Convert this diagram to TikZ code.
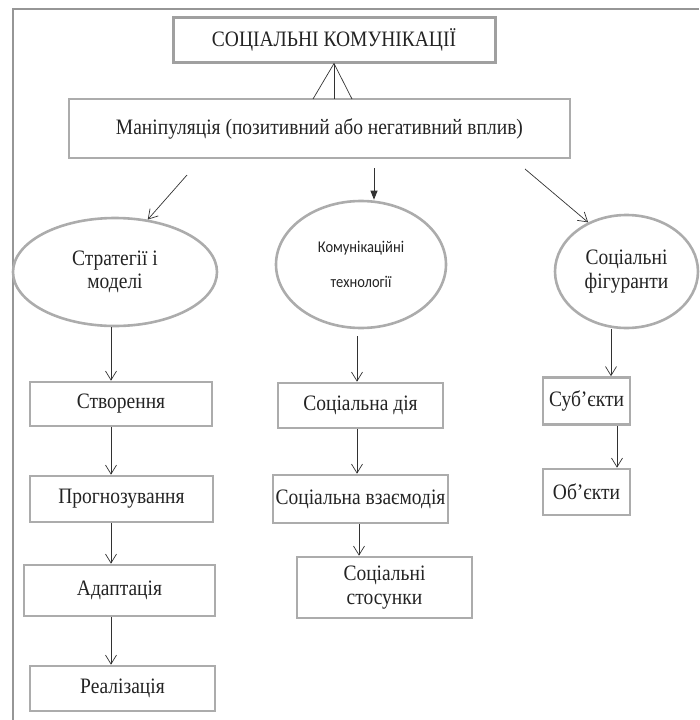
\documentclass[tikz,border=0pt]{standalone}
\usepackage{graphicx}
\usepackage{fontspec}
\setmainfont{Liberation Serif}
\newfontfamily\calib{Carlito}
\usetikzlibrary{arrows.meta,shapes.geometric}
\newcommand\vst[1]{\scalebox{1}[1.13]{#1}}
\definecolor{boxgray}{RGB}{172,172,172}
\definecolor{topgray}{RGB}{160,160,160}
\definecolor{framegray}{RGB}{150,150,150}
\definecolor{arrgray}{RGB}{50,50,50}
\definecolor{txt}{RGB}{35,35,35}
\begin{document}
\begin{tikzpicture}[x=1pt,y=-1pt,
  box/.style={draw=boxgray,line width=2.6pt,rectangle,inner sep=0pt,align=center,text=txt,
    font=\fontsize{19.5}{23.5}\selectfont},
  oval/.style={draw=boxgray,line width=2.6pt,ellipse,inner sep=0pt,align=center,text=txt,
    font=\fontsize{19.5}{23.5}\selectfont},
  arr/.style={draw=arrgray,line width=0.7pt,-{Straight Barb[length=9pt,width=11pt]}},
  arrf/.style={draw=arrgray,line width=0.9pt,-{Triangle[length=9pt,width=7pt]}},
  frameline/.style={draw=framegray,line width=2pt},
  link/.style={draw=arrgray,line width=0.7pt}]
\useasboundingbox (0,0) rectangle (699,720);
\draw[frameline] (13,720) -- (13,9) -- (699,9);

% top level
\node[box,draw=topgray,line width=3pt,minimum width=322pt,minimum height=45pt] (top) at (334,39.5) {\vst{СОЦІАЛЬНІ КОМУНІКАЦІЇ}};
\node[box,minimum width=501pt,minimum height=59pt] (manip) at (319.5,128.5) {\vst{Маніпуляція (позитивний або негативний вплив)}};

\coordinate (f1) at (313,99);
\coordinate (f2) at (334,99);
\coordinate (f3) at (352,99);
\draw[link] (f1) -- (top.south) -- (f3);
\draw[link] (top.south) -- (f2);

% ellipses
\node[oval,minimum width=204pt,minimum height=108pt] (e1) at (115,272) {\vst{Стратегії і}\\\vst{моделі}};
\node[oval,minimum width=170pt,minimum height=127pt,font=\calib\fontsize{14.5}{17}\selectfont] (e2) at (361,264.5) {\vst{Комунікаційні}\\[18pt]\vst{технології}};
\node[oval,minimum width=143pt,minimum height=113pt] (e3) at (626.5,271.5) {\vst{Соціальні}\\\vst{фігуранти}};

\coordinate (aL) at (187,175);
\coordinate (aM) at (374,168);
\coordinate (aR) at (525,169);
\draw[arr] (aL) -- (e1.58);
\draw[arrf] (aM) -- (aM |- e2.north);
\draw[arr] (aR) -- (e3.128);

% left column
\node[box,minimum width=182pt,minimum height=44pt] (s1) at (121,404) {\vst{Створення}};
\node[box,minimum width=183pt,minimum height=46pt] (s2) at (121.5,499) {\vst{Прогнозування}};
\node[box,minimum width=191pt,minimum height=51pt] (s3) at (119.5,590.5) {\vst{Адаптація}};
\node[box,minimum width=185pt,minimum height=45pt] (s4) at (122.5,688.5) {\vst{Реалізація}};
\coordinate (cl) at (111,0);
\draw[arr] (e1.south -| cl) -- (s1.north -| cl);
\draw[arr] (s1.south -| cl) -- (s2.north -| cl);
\draw[arr] (s2.south -| cl) -- (s3.north -| cl);
\draw[arr] (s3.south -| cl) -- (s4.north -| cl);

% middle column
\node[box,minimum width=165pt,minimum height=45pt] (m1) at (360.5,405.5) {\vst{Соціальна дія}};
\node[box,minimum width=175pt,minimum height=48pt] (m2) at (360.5,499) {\vst{Соціальна взаємодія}};
\node[box,minimum width=175pt,minimum height=61pt] (m3) at (384.5,587.5) {\vst{Соціальні}\\\vst{стосунки}};
\coordinate (g2) at (357,336);
\coordinate (cm) at (359,0);
\draw[arr] (g2) -- (g2 |- m1.north);
\draw[arr] (m1.south -| g2) -- (m2.north -| g2);
\draw[arr] (m2.south -| cm) -- (m3.north -| cm);

% right column
\node[box,minimum width=87pt,minimum height=47pt] (r1) at (586.5,401) {\vst{Суб’єкти}};
\node[box,minimum width=87pt,minimum height=46pt] (r2) at (586.5,492) {\vst{Об’єкти}};
\coordinate (cr1) at (611,0);
\coordinate (cr2) at (617,0);
\draw[arr] (e3.south -| cr1) -- (r1.north -| cr1);
\draw[arr] (r1.south -| cr2) -- (r2.north -| cr2);
\end{tikzpicture}
\end{document}
